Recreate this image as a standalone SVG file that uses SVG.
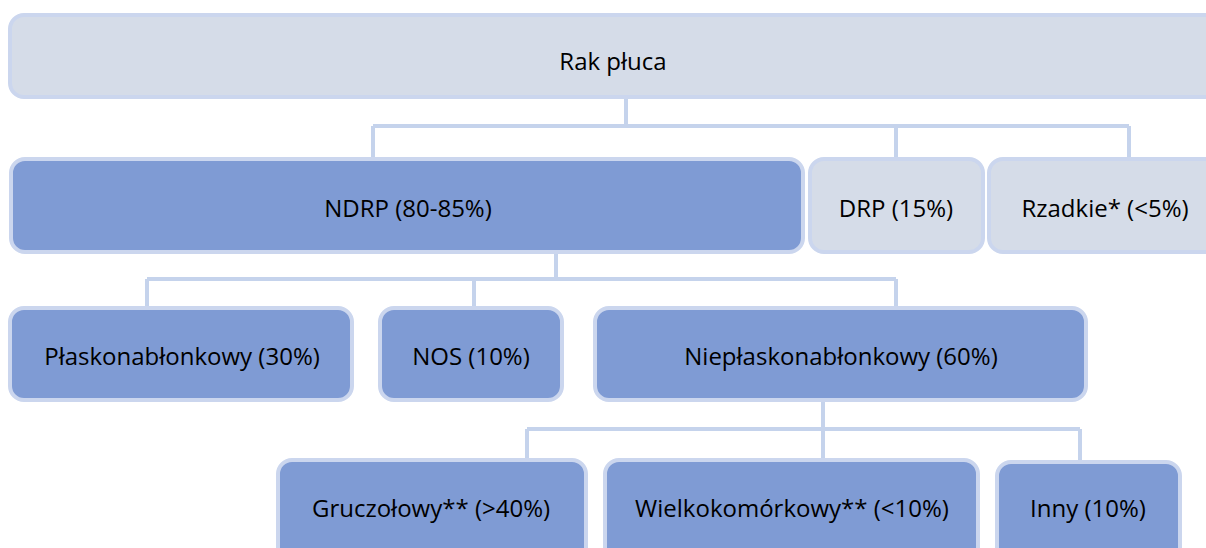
<svg xmlns="http://www.w3.org/2000/svg" width="1206" height="548" viewBox="0 0 1206 548">
<style>
.light{fill:#d5dce8;stroke:#cbd6ee;stroke-width:4}
.dark{fill:#7f9bd4;stroke:#cbd6ee;stroke-width:4}
.lbl{font-family:"Open Sans","Liberation Sans",sans-serif;font-size:24px;fill:#000;text-anchor:middle}
.conn{fill:none;stroke:#c5d3ec;stroke-width:4}
</style>
<rect width="1206" height="548" fill="#fff"/>
<g id="connectors">
<path class="conn" d="M626 99V126M373 126H1129M373 126V158M896 126V158M1129 126V158"/>
<path class="conn" d="M556 253V279M147 279H896M147 279V307M474 279V307M896 279V307"/>
<path class="conn" d="M823 401V429M527 429H1080M527 429V459M823 429V459M1080 429V461"/>
</g>
<g id="rak-pluca"><rect class="light" x="10" y="15" width="1230" height="82" rx="14"/><text class="lbl" x="613" y="70">Rak płuca</text></g>
<g id="ndrp"><rect class="dark" x="11" y="159" width="792" height="93" rx="14"/><text class="lbl" x="408" y="217">NDRP (80-85%)</text></g>
<g id="drp"><rect class="light" x="810" y="159" width="173" height="93" rx="14"/><text class="lbl" x="896" y="217">DRP (15%)</text></g>
<g id="rzadkie"><rect class="light" x="989" y="159" width="232" height="93" rx="14"/><text class="lbl" x="1105" y="217">Rzadkie* (&lt;5%)</text></g>
<g id="plaskonablonkowy"><rect class="dark" x="10" y="308" width="342" height="92" rx="14"/><text class="lbl" x="182" y="365">Płaskonabłonkowy (30%)</text></g>
<g id="nos"><rect class="dark" x="380" y="308" width="182" height="92" rx="14"/><text class="lbl" x="471" y="365">NOS (10%)</text></g>
<g id="nieplaskonablonkowy"><rect class="dark" x="595" y="308" width="491" height="92" rx="14"/><text class="lbl" x="841" y="365">Niepłaskonabłonkowy (60%)</text></g>
<g id="gruczolowy"><rect class="dark" x="278" y="460" width="308" height="110" rx="14"/><text class="lbl" x="431" y="517">Gruczołowy** (&gt;40%)</text></g>
<g id="wielkokomorkowy"><rect class="dark" x="605" y="460" width="373" height="110" rx="14"/><text class="lbl" x="792" y="517">Wielkokomórkowy** (&lt;10%)</text></g>
<g id="inny"><rect class="dark" x="997" y="462" width="183" height="110" rx="14"/><text class="lbl" x="1088" y="517">Inny (10%)</text></g>
</svg>
